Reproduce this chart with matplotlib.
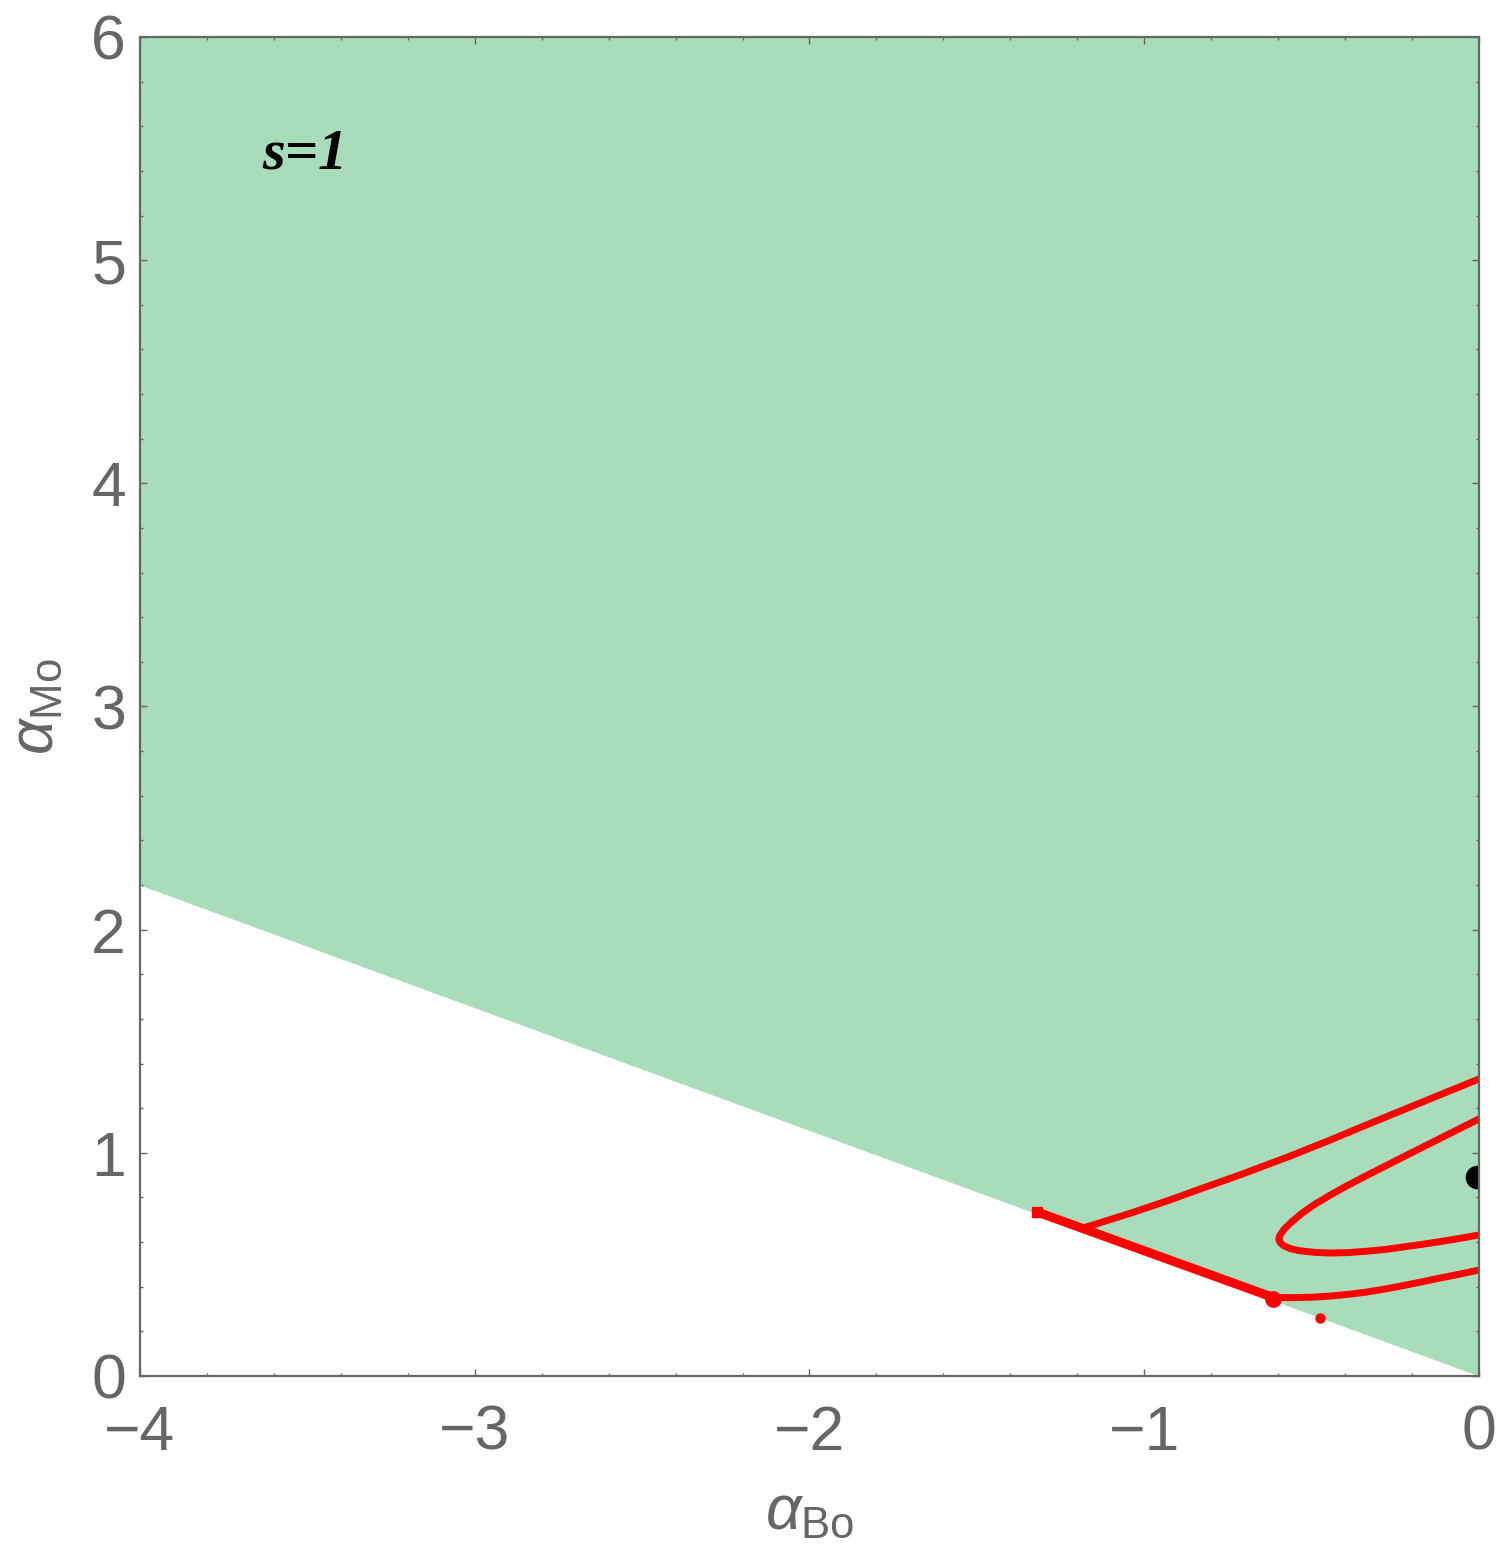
import matplotlib
matplotlib.use("Agg")
import matplotlib.pyplot as plt
from matplotlib.ticker import MultipleLocator

plt.rcParams['mathtext.fontset'] = 'custom'
plt.rcParams['mathtext.rm'] = 'Liberation Sans'
plt.rcParams['mathtext.it'] = 'Liberation Sans:italic'

# ---- data ----
boundary_x = [-4.0, 0.0]
boundary_y = [2.2, 0.0]

outer_upper_x = [0.0, -0.113, -0.227, -0.336, -0.445, -0.565, -0.714, -0.820,
                 -0.923, -1.034, -1.110, -1.183]
outer_upper_y = [1.331, 1.262, 1.192, 1.125, 1.057, 0.985, 0.901, 0.845,
                 0.789, 0.733, 0.697, 0.663]

outer_lower_x = [-0.615, -0.560, -0.500, -0.445, -0.390, -0.336, -0.280, -0.227,
                 -0.170, -0.113, -0.056, 0.0]
outer_lower_y = [0.352, 0.351, 0.353, 0.358, 0.366, 0.376, 0.390, 0.405,
                 0.422, 0.440, 0.457, 0.475]

inner_x = [0.0, -0.113, -0.227, -0.336, -0.400, -0.445, -0.490, -0.530, -0.560,
           -0.582, -0.595, -0.598, -0.595, -0.585, -0.565, -0.535, -0.490, -0.445,
           -0.390, -0.336, -0.280, -0.227, -0.170, -0.113, -0.056, 0.0]
inner_y = [1.152, 1.067, 0.981, 0.898, 0.848, 0.810, 0.770, 0.728, 0.690,
           0.658, 0.630, 0.615, 0.600, 0.585, 0.571, 0.561, 0.554, 0.551,
           0.553, 0.559, 0.567, 0.578, 0.590, 0.603, 0.617, 0.632]

edge_seg_x = [-1.32, -0.615]
edge_seg_y = [0.735, 0.352]

edge_x = [0.0, 0.0]
edge_y = [0.475, 1.331]

isolated_x = [-0.475]
isolated_y = [0.262]

best_x = [-0.006]
best_y = [0.892]

xticks = [-4, -3, -2, -1, 0]
yticks = [0, 1, 2, 3, 4, 5, 6]

gray = '#666666'
green = '#A9DCBA'
red = '#FF0000'

fig = plt.figure(figsize=(15, 15.57), dpi=100)
ax = fig.add_axes([0.0933, 0.11625, 0.8927, 0.86])

ax.fill_between(boundary_x, boundary_y, [6, 6], color=green, linewidth=0, zorder=1)

line_kw = dict(color=red, lw=5.0, solid_capstyle='round', solid_joinstyle='round', zorder=3)
ax.plot(outer_upper_x, outer_upper_y, **line_kw)
ax.plot(outer_lower_x, outer_lower_y, **line_kw)
ax.plot(inner_x, inner_y, **line_kw)
ax.plot(edge_seg_x, edge_seg_y, color=red, lw=6.5, solid_capstyle='round',
        solid_joinstyle='round', zorder=3)
ax.plot([edge_seg_x[0]], [edge_seg_y[0]], 's', color=red, ms=7, zorder=3)
ax.plot([edge_seg_x[-1]], [edge_seg_y[-1] - 0.005], 'o', color=red, ms=11, zorder=3)
ax.plot(edge_x, edge_y, color=red, lw=2.0, zorder=3)
ax.plot(isolated_x, isolated_y, 'o', color=red, ms=6.5, zorder=3)
ax.plot(best_x, best_y, 'o', color='black', ms=16, zorder=4, clip_on=True)

ax.set_xlim(-4, 0)
ax.set_ylim(0, 6)
ax.set_xticks(xticks)
ax.set_yticks(yticks)
ax.set_xticklabels(['\u2212%d' % abs(v) if v < 0 else '%d' % v for v in xticks])
ax.set_yticklabels(['%d' % v for v in yticks])
ax.xaxis.set_minor_locator(MultipleLocator(0.2))
ax.yaxis.set_minor_locator(MultipleLocator(0.2))

for sp in ax.spines.values():
    sp.set_color(gray)
    sp.set_linewidth(1.6)
    sp.set_zorder(5)

ax.tick_params(which='both', direction='in', top=True, right=True, color=gray, width=1.0)
ax.tick_params(which='major', length=5)
ax.tick_params(which='minor', length=2.5)
ax.tick_params(axis='x', which='major', pad=20, labelsize=45, labelcolor=gray)
ax.tick_params(axis='y', which='major', pad=10, labelsize=45, labelcolor=gray)
for lab in ax.get_xticklabels() + ax.get_yticklabels():
    lab.set_fontfamily('Liberation Sans')

ax.set_xlabel(r'$\alpha_{\mathrm{Bo}}$', fontsize=45, color=gray, labelpad=14)
ax.set_ylabel(r'$\alpha_{\mathrm{Mo}}$', fontsize=45, color=gray, labelpad=18)

ax.text(0.123, 0.912, 's=1', transform=ax.transAxes, fontsize=42,
        family='Liberation Serif', fontweight='bold', fontstyle='italic',
        color='black', ha='center', va='center', zorder=6)

fig.savefig('out.png', dpi=100)
